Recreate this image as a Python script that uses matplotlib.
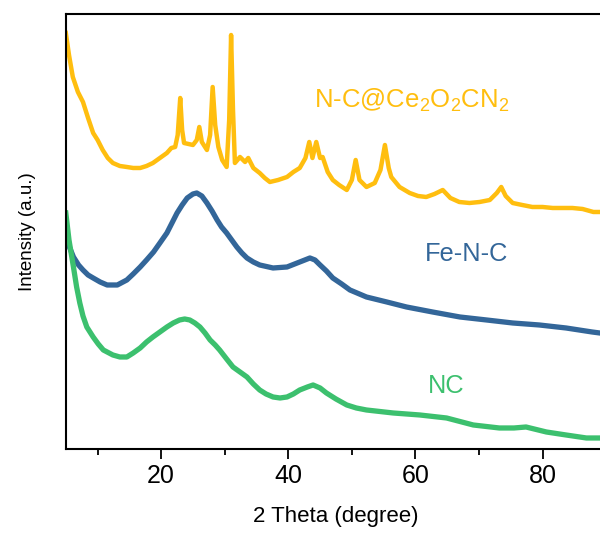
import matplotlib
matplotlib.use("Agg")
import matplotlib.pyplot as plt
from matplotlib import font_manager

# XRD patterns, intensity (arbitrary units)
theta_cec = [5.0, 5.5, 6.1, 6.9, 7.7, 8.5, 9.3, 10.0, 10.8, 11.6, 12.4, 13.5, 14.6, 15.6,
             16.7, 17.7, 18.7, 19.8, 20.9, 21.6, 22.2, 22.6, 23.0, 23.3, 23.6, 24.3, 25.0,
             25.6, 26.0, 26.4, 27.2, 27.7, 28.1, 28.5, 29.0, 29.6, 30.3, 30.7, 31.0, 31.3,
             31.6, 32.4, 33.2, 33.7, 34.5, 35.5, 36.3, 37.1, 38.4, 39.8, 40.8, 41.8, 42.7,
             43.3, 43.8, 44.4, 45.0, 45.4, 46.2, 47.0, 48.0, 49.2, 50.0, 50.6, 51.2, 52.3,
             53.6, 54.5, 55.2, 55.8, 56.2, 57.5, 59.1, 60.4, 61.7, 63.0, 64.3, 65.5, 66.9,
             68.5, 70.1, 71.7, 72.8, 73.5, 74.2, 75.3, 76.8, 78.4, 80.0, 81.6, 83.2, 84.7,
             86.3, 88.0, 89.0]
int_cec = [416, 394, 372, 357, 347, 331, 316, 309, 299, 291, 286, 283, 282, 281,
           281, 283, 286, 291, 296, 301, 302, 314, 351, 319, 306, 305, 304,
           309, 322, 307, 299, 314, 362, 324, 302, 289, 282, 329, 414, 339,
           286, 292, 287, 291, 281, 276, 271, 267, 269, 272, 277, 281, 291,
           307, 291, 307, 291, 292, 277, 269, 264, 259, 269, 289, 269, 262,
           266, 279, 304, 281, 272, 262, 256, 253, 252, 255, 259, 251, 247,
           246, 247, 249, 256, 262, 253, 246, 244, 242, 242, 241, 241, 241,
           240, 237, 237]

theta_fenc = [5.0, 5.5, 6.2, 7.0, 7.7, 8.5, 9.3, 10.4, 11.5, 13.1, 14.6, 15.6, 16.7, 17.7,
              18.8, 19.8, 20.9, 21.7, 22.5, 23.3, 24.1, 25.0, 25.6, 26.4, 27.2, 28.0, 28.8,
              29.5, 30.3, 31.1, 31.9, 32.7, 33.5, 34.5, 35.5, 37.6, 39.8, 41.8, 43.4, 44.2,
              45.0, 46.0, 47.0, 48.4, 49.7, 52.3, 55.5, 58.6, 62.7, 67.0, 71.2, 75.3, 79.5,
              83.7, 87.8, 89.0]
int_fenc = [216, 203, 192, 184, 179, 174, 171, 167, 164, 164, 169, 175, 182, 189,
            197, 206, 216, 226, 236, 244, 251, 255, 256, 253, 246, 238, 229,
            222, 216, 209, 202, 196, 191, 187, 184, 181, 182, 187, 191, 189,
            184, 178, 171, 165, 159, 152, 147, 142, 137, 132, 129, 126, 124,
            121, 117, 116]

theta_nc = [5.0, 5.5, 6.2, 6.7, 7.2, 7.7, 8.3, 9.3, 10.1, 10.9, 12.4, 13.5, 14.6, 15.6,
            16.7, 17.7, 18.7, 19.8, 20.9, 21.9, 22.9, 23.7, 24.5, 25.3, 26.1, 26.9, 27.7,
            28.5, 29.2, 30.3, 31.3, 32.4, 33.5, 34.5, 35.5, 36.5, 37.6, 38.7, 39.8, 40.8,
            41.8, 43.0, 43.9, 45.0, 46.0, 47.5, 49.2, 50.7, 52.3, 56.5, 60.7, 64.9, 69.1,
            73.2, 75.5, 77.4, 80.6, 83.7, 86.9, 89.0]
int_nc = [236, 209, 182, 162, 146, 133, 122, 112, 105, 99, 94, 92, 92, 96,
          101, 107, 112, 117, 122, 126, 129, 130, 129, 126, 122, 116, 109,
          104, 99, 90, 82, 77, 72, 65, 59, 55, 52, 51, 52, 55,
          59, 62, 64, 61, 56, 50, 44, 41, 39, 36, 34, 31, 24,
          21, 21, 22, 17, 14, 11, 11]

c_cec = '#FFBE0F'
c_fenc = '#336699'
c_nc = '#3CC06E'

names = [f.name for f in font_manager.fontManager.ttflist]
plt.rcParams['font.family'] = ['Liberation Sans', 'DejaVu Sans']
plt.rcParams['mathtext.fontset'] = 'custom'
plt.rcParams['mathtext.rm'] = 'Liberation Sans'
plt.rcParams['mathtext.it'] = 'Liberation Sans'

fig = plt.figure(figsize=(6.0, 5.34), dpi=100)
ax = fig.add_axes([0.1097, 0.1592, 0.9005, 0.8146])

ax.plot(theta_cec, int_cec, color=c_cec, lw=3.2, solid_joinstyle='round')
ax.plot(theta_fenc, int_fenc, color=c_fenc, lw=3.8, solid_joinstyle='round')
ax.plot(theta_nc, int_nc, color=c_nc, lw=3.8, solid_joinstyle='round')

ax.text(44.1, 341, r'N-C@Ce$_2$O$_2$CN$_2$', color=c_cec, fontsize=18.5, va='baseline', ha='left')
ax.text(61.45, 188, 'Fe-N-C', color=c_fenc, fontsize=18.3, va='baseline', ha='left')
ax.text(61.9, 56, 'NC', color=c_nc, fontsize=18.3, va='baseline', ha='left')

ax.set_xlim(5, 90)
ax.set_ylim(0, 435)
ax.set_xticks([20, 40, 60, 80])
ax.set_xticks([10, 30, 50, 70, 90], minor=True)
ax.set_yticks([])
ax.tick_params(axis='x', which='major', length=7, width=1.3, labelsize=18, pad=4)
ax.tick_params(axis='x', which='minor', length=4, width=1.3)
ax.spines['right'].set_visible(False)
for s in ['left', 'top', 'bottom']:
    ax.spines[s].set_linewidth(1.5)

ax.set_xlabel('2 Theta (degree)', fontsize=16, labelpad=13)
if 'Liberation Sans Narrow' in names:
    ax.set_ylabel('Intensity (a.u.)', fontsize=16, family='Liberation Sans Narrow')
else:
    ax.set_ylabel('Intensity (a.u.)', fontsize=13.5)
ax.yaxis.set_label_coords(-0.055, 0.5)

fig.savefig('out.png', dpi=100)
